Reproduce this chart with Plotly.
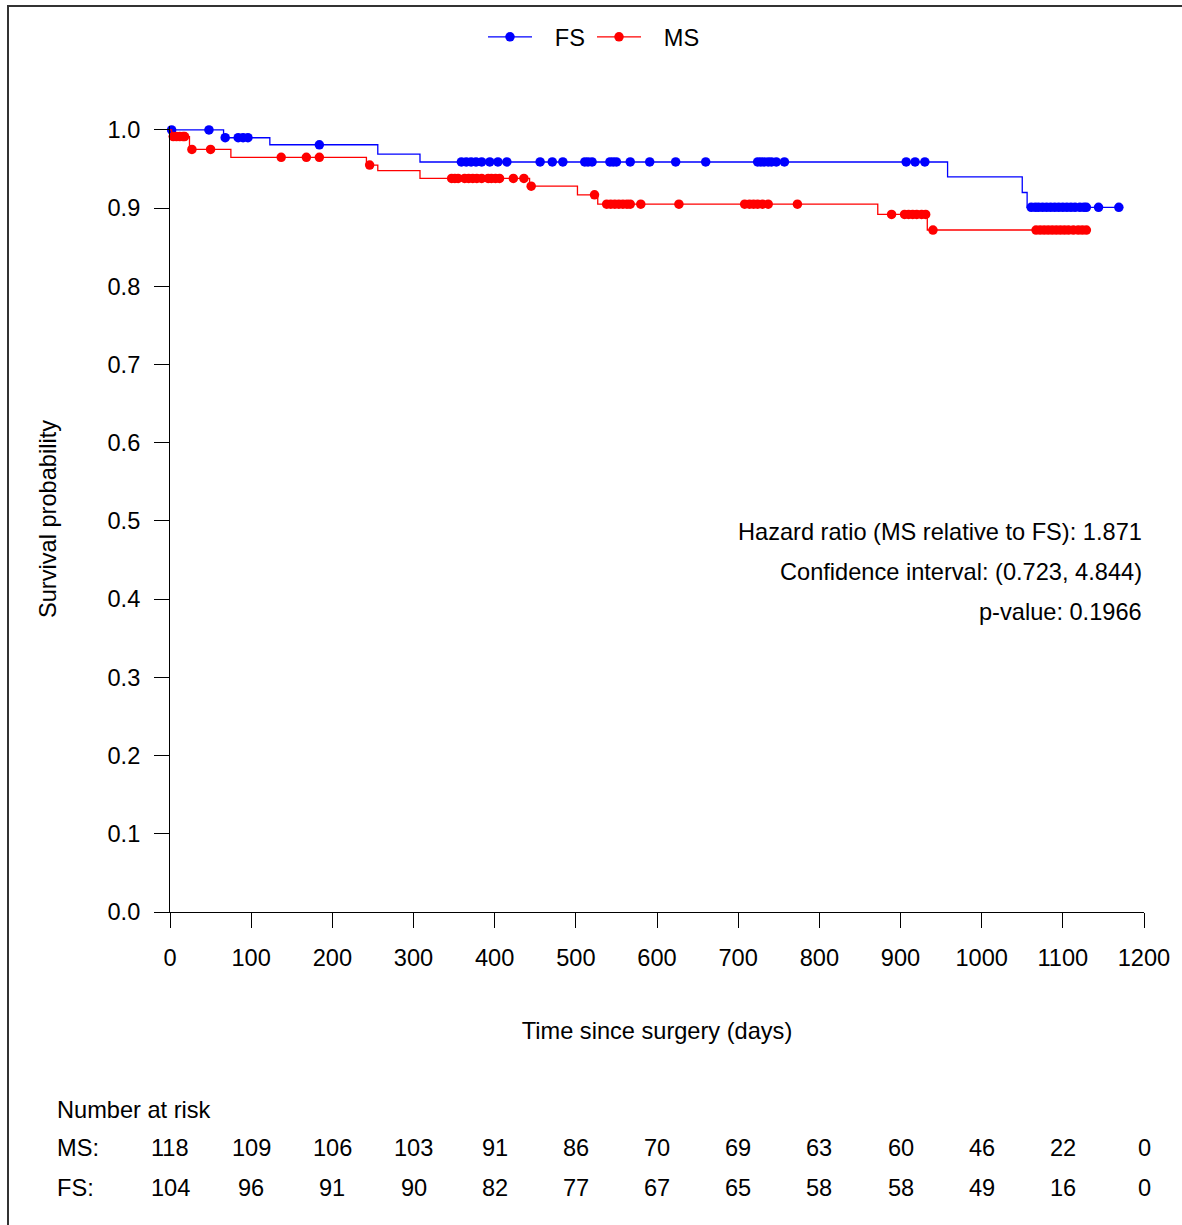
import plotly.graph_objects as go
import numpy as np

# ---------------- data ----------------
# Kaplan-Meier steps (time of event, survival after event)
fs_step_times = [0, 66, 123, 256, 308, 958, 1050, 1056]
fs_step_surv = [1.0, 0.990, 0.981, 0.969, 0.959, 0.940, 0.920, 0.901]
fs_end_time = 1169
fs_censor_times = [2, 48, 68, 84, 90, 96, 184, 359, 365, 371, 377, 384, 394, 404,
                   415, 456, 471, 484, 511, 515, 520, 542, 546, 550, 567, 591, 623,
                   660, 724, 728, 732, 737, 741, 747, 757, 907, 918, 930, 1061, 1066,
                   1070, 1075, 1080, 1085, 1090, 1095, 1100, 1105, 1110, 1115, 1121,
                   1126, 1129, 1144, 1169]

ms_step_times = [0, 2, 24, 75, 242, 256, 308, 443, 502, 527, 872, 933]
ms_step_surv = [1.0, 0.9915, 0.975, 0.965, 0.955, 0.948, 0.938, 0.928, 0.917,
                0.905, 0.892, 0.872]
ms_end_time = 1129
ms_censor_times = [4, 8, 12, 16, 18, 27, 50, 137, 168, 184, 246, 347, 351, 355, 363,
                   368, 373, 378, 384, 392, 396, 401, 406, 423, 436, 445, 523, 538,
                   543, 548, 553, 558, 563, 567, 580, 627, 708, 714, 719, 724, 730,
                   737, 773, 889, 905, 910, 915, 920, 926, 931, 940, 1067, 1072,
                   1077, 1082, 1087, 1092, 1097, 1102, 1107, 1113, 1119, 1124, 1129]

risk_times = [0, 100, 200, 300, 400, 500, 600, 700, 800, 900, 1000, 1100, 1200]
ms_at_risk = [118, 109, 106, 103, 91, 86, 70, 69, 63, 60, 46, 22, 0]
fs_at_risk = [104, 96, 91, 90, 82, 77, 67, 65, 58, 58, 49, 16, 0]

x_ticks = [0, 100, 200, 300, 400, 500, 600, 700, 800, 900, 1000, 1100, 1200]
y_ticks = [0.0, 0.1, 0.2, 0.3, 0.4, 0.5, 0.6, 0.7, 0.8, 0.9, 1.0]

stats_lines = ["Hazard ratio (MS relative to FS): 1.871",
               "Confidence interval: (0.723, 4.844)",
               "p-value: 0.1966"]

FONT = "Liberation Sans, Arial, sans-serif"
FS_SIZE = 23.6
BLUE = "#0000FF"
RED = "#FF0000"


def surv_at(t, times, surv):
    idx = np.searchsorted(times, t, side="right") - 1
    return surv[idx]


def step_xy(times, surv, end):
    return list(times) + [end], list(surv) + [surv[-1]]


fig = go.Figure()

for name, times, surv, end, cens, col in [
    ("FS", fs_step_times, fs_step_surv, fs_end_time, fs_censor_times, BLUE),
    ("MS", ms_step_times, ms_step_surv, ms_end_time, ms_censor_times, RED),
]:
    sx, sy = step_xy(times, surv, end)
    fig.add_trace(go.Scatter(x=sx, y=sy, mode="lines", line=dict(color=col, width=1.3, shape="hv"),
                             showlegend=False, hoverinfo="skip"))
    cy = [surv_at(t, times, surv) for t in cens]
    fig.add_trace(go.Scatter(x=cens, y=cy, mode="markers", marker=dict(color=col, size=9.5, symbol="circle"),
                             showlegend=False, cliponaxis=False))
    # legend entry
    fig.add_trace(go.Scatter(x=[None], y=[None], mode="lines+markers",
                             name="\u00a0\u00a0\u2009" + name,
                             line=dict(color=col, width=1.3), marker=dict(color=col, size=9.5)))

L, R, T, B = 170, 38, 126, 313
W, H = 1182, 1225
plot_h = H - T - B
plot_w = W - L - R


def py(px):
    return (H - B - px) / plot_h


def pxx(px):
    return (px - L) / plot_w


annotations = []
for i, line in enumerate(stats_lines):
    annotations.append(dict(x=1200, xref="x", y=py(532 + 40 * i), yref="paper", text=line,
                            showarrow=False, xanchor="right", yanchor="middle",
                            font=dict(family=FONT, size=FS_SIZE, color="black")))

annotations.append(dict(x=pxx(55), xref="paper", y=py(1110), yref="paper", text="Number at risk",
                        showarrow=False, xanchor="left", yanchor="middle",
                        font=dict(family=FONT, size=FS_SIZE, color="black")))
for lab, vals, ypx in [("MS:", ms_at_risk, 1148), ("FS:", fs_at_risk, 1188)]:
    annotations.append(dict(x=pxx(55), xref="paper", y=py(ypx), yref="paper", text=lab,
                            showarrow=False, xanchor="left", yanchor="middle",
                            font=dict(family=FONT, size=FS_SIZE, color="black")))
    for t, v in zip(risk_times, vals):
        annotations.append(dict(x=t, xref="x", y=py(ypx), yref="paper", text=str(v),
                                showarrow=False, xanchor="center", yanchor="middle",
                                font=dict(family=FONT, size=FS_SIZE, color="black")))

shapes = [dict(type="rect", xref="paper", yref="paper",
               x0=pxx(8), x1=pxx(1195), y0=py(1240), y1=py(6),
               line=dict(color="#333333", width=2), fillcolor="rgba(0,0,0,0)", layer="above")]

fig.update_layout(
    width=W, height=H,
    margin=dict(l=L, r=R, t=T, b=B, autoexpand=False),
    paper_bgcolor="white", plot_bgcolor="white",
    font=dict(family=FONT, size=FS_SIZE, color="black"),
    showlegend=True,
    legend=dict(orientation="h", x=pxx(483), xanchor="left", y=py(37), yanchor="middle",
                font=dict(family=FONT, size=FS_SIZE, color="black"),
                itemwidth=44,
                bgcolor="rgba(0,0,0,0)", entrywidth=50, entrywidthmode="pixels"),
    annotations=annotations,
    shapes=shapes,
    xaxis=dict(range=[0, 1200], tickvals=x_ticks, ticktext=[str(v) for v in x_ticks],
               showgrid=False, zeroline=False, showline=True, linecolor="black", linewidth=1,
               ticks="outside", ticklen=15, tickwidth=1, tickcolor="black",
               ticklabelstandoff=10,
               title=dict(text="Time since surgery (days)", standoff=52,
                          font=dict(family=FONT, size=FS_SIZE, color="black"))),
    yaxis=dict(range=[0, 1.005], tickvals=y_ticks, ticktext=[f"{v:.1f}" for v in y_ticks],
               showgrid=False, zeroline=False, showline=True, linecolor="black", linewidth=1,
               ticks="outside", ticklen=15, tickwidth=1, tickcolor="black",
               ticklabelstandoff=9,
               title=dict(text="Survival probability", standoff=44,
                          font=dict(family=FONT, size=FS_SIZE, color="black"))),
)

fig.write_html("out.html")
